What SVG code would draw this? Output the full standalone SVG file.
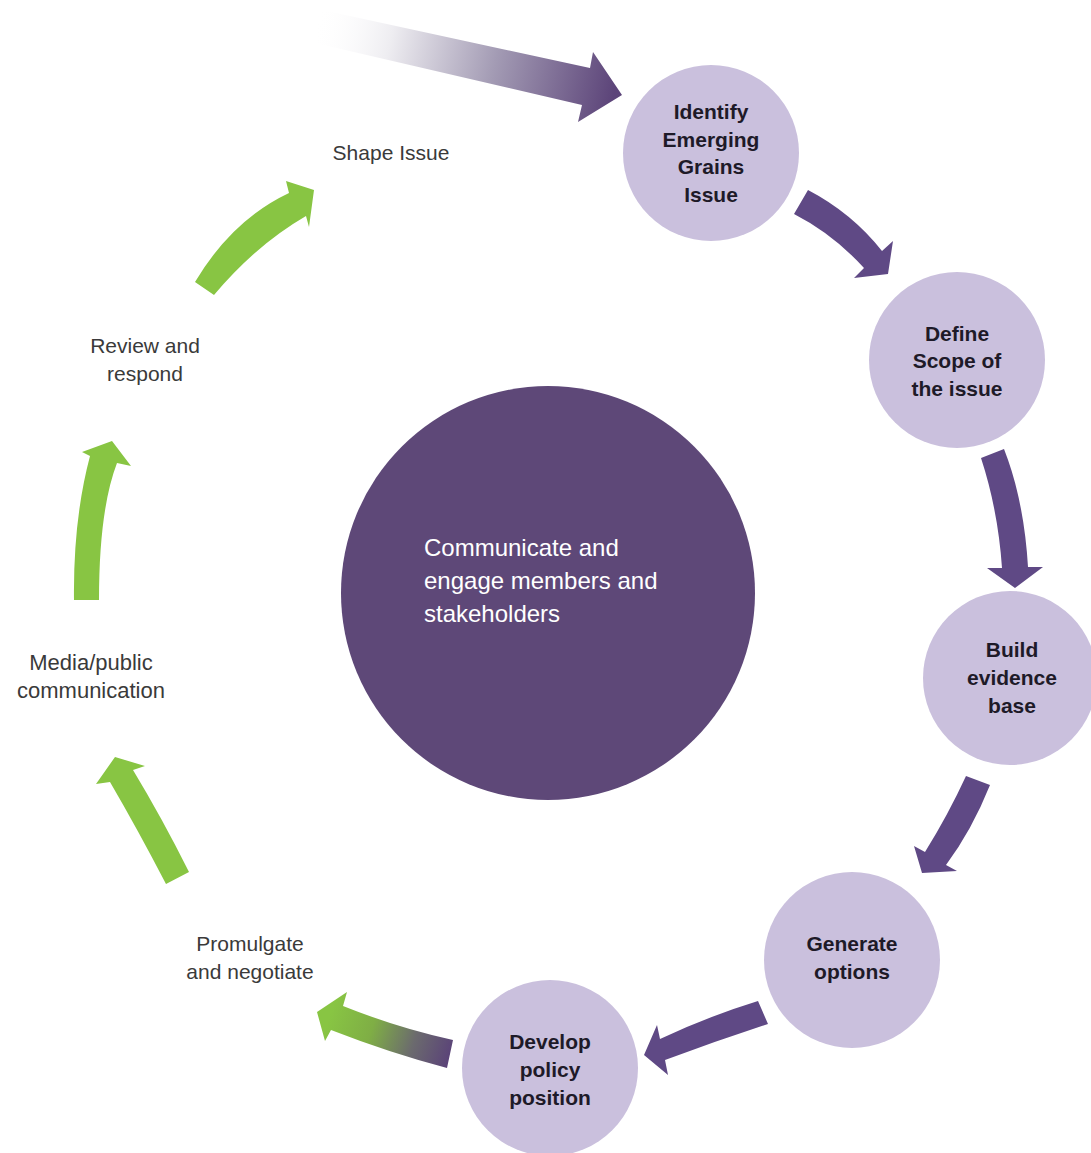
<svg xmlns="http://www.w3.org/2000/svg" width="1091" height="1153" viewBox="0 0 1091 1153">
<style>
.node{fill:#cac0dd}
.nt{font-family:"Liberation Sans",Arial,sans-serif;font-weight:bold;font-size:21px;fill:#1e1a28;text-anchor:middle}
.lbl{font-family:"Liberation Sans",Arial,sans-serif;font-size:21px;fill:#3a3a3a;text-anchor:middle}
.ct{font-family:"Liberation Sans",Arial,sans-serif;font-size:24px;fill:#ffffff}
.pa{fill:#5f4985}
.ga{fill:#88c543}
</style>
<defs>
<linearGradient id="gTop" gradientUnits="userSpaceOnUse" x1="315" y1="25" x2="615" y2="90">
<stop offset="0" stop-color="#ffffff" stop-opacity="0"/>
<stop offset="0.25" stop-color="#eeedf1"/>
<stop offset="0.6" stop-color="#a39bb4"/>
<stop offset="1" stop-color="#5c4479"/>
</linearGradient>
<linearGradient id="gBot" gradientUnits="userSpaceOnUse" x1="330" y1="1015" x2="450" y2="1055">
<stop offset="0" stop-color="#88c543"/>
<stop offset="0.35" stop-color="#7fae45"/>
<stop offset="0.7" stop-color="#6b6a6e"/>
<stop offset="1" stop-color="#5b4478"/>
</linearGradient>
</defs>

<g id="connectors">
<path id="arrow-in" fill="url(#gTop)" d="M313,8 L590,68 L593,52 L622,95 L578,122 L582,105 L315,43 Z"/>
<path id="a1-2" class="pa" d="M808,190 Q852,213 882,251 L893,241 L888,274 L854,278 L864,268 Q833,234 794,214 Z"/>
<path id="a2-3" class="pa" d="M981,458 L1004,449 Q1024,500 1028,567 L1043,567 L1015,588 L987,568 L1002,568 Q998,510 981,458 Z"/>
<path id="a3-4" class="pa" d="M966,776 L990,785 Q972,830 946,865 L957,871 L922,873 L914,846 L925,852 Q948,815 966,776 Z"/>
<path id="a4-5" class="pa" d="M758,1001 L768,1024 Q716,1041 665,1060 L668,1075 L644,1055 L657,1025 L660,1039 Q709,1016 758,1001 Z"/>
<path id="a5-p" fill="url(#gBot)" d="M453,1040 L447,1068 Q390,1053 331,1030 L325,1041 L317,1012 L347,992 L343,1006 Q398,1028 453,1040 Z"/>
<path id="ap-m" class="ga" d="M189,872 Q162,818 133,770 L145,766 L115,757 L96,784 L110,782 Q138,830 166,884 Z"/>
<path id="am-r" class="ga" d="M99,600 Q99,510 117,463 L131,466 L112,441 L82,452 L90,456 Q73,520 74,600 Z"/>
<path id="ar-s" class="ga" d="M195,282 Q232,220 289,193 L286,181 L314,190 L309,227 L306,216 Q256,245 214,295 Z"/>
</g>

<g id="center">
<circle cx="548" cy="593" r="207" fill="#5e4878"/>
<text class="ct" x="424" y="556">Communicate and</text>
<text class="ct" x="424" y="589">engage members and</text>
<text class="ct" x="424" y="622">stakeholders</text>
</g>

<g id="n1">
<circle class="node" cx="711" cy="153" r="88"/>
<text class="nt" x="711" y="119">Identify</text>
<text class="nt" x="711" y="147">Emerging</text>
<text class="nt" x="711" y="174">Grains</text>
<text class="nt" x="711" y="202">Issue</text>
</g>
<g id="n2">
<circle class="node" cx="957" cy="360" r="88"/>
<text class="nt" x="957" y="341">Define</text>
<text class="nt" x="957" y="368">Scope of</text>
<text class="nt" x="957" y="396">the issue</text>
</g>
<g id="n3">
<circle class="node" cx="1010" cy="678" r="87"/>
<text class="nt" x="1012" y="657">Build</text>
<text class="nt" x="1012" y="685">evidence</text>
<text class="nt" x="1012" y="713">base</text>
</g>
<g id="n4">
<circle class="node" cx="852" cy="960" r="88"/>
<text class="nt" x="852" y="951">Generate</text>
<text class="nt" x="852" y="979">options</text>
</g>
<g id="n5">
<circle class="node" cx="550" cy="1068" r="88"/>
<text class="nt" x="550" y="1049">Develop</text>
<text class="nt" x="550" y="1077">policy</text>
<text class="nt" x="550" y="1105">position</text>
</g>

<g id="labels">
<text class="lbl" x="391" y="160">Shape Issue</text>
<text class="lbl" x="145" y="353">Review and</text>
<text class="lbl" x="145" y="381">respond</text>
<text class="lbl" x="91" y="670" style="font-size:22px">Media/public</text>
<text class="lbl" x="91" y="698" style="font-size:22px">communication</text>
<text class="lbl" x="250" y="951">Promulgate</text>
<text class="lbl" x="250" y="979">and negotiate</text>
</g>
</svg>
